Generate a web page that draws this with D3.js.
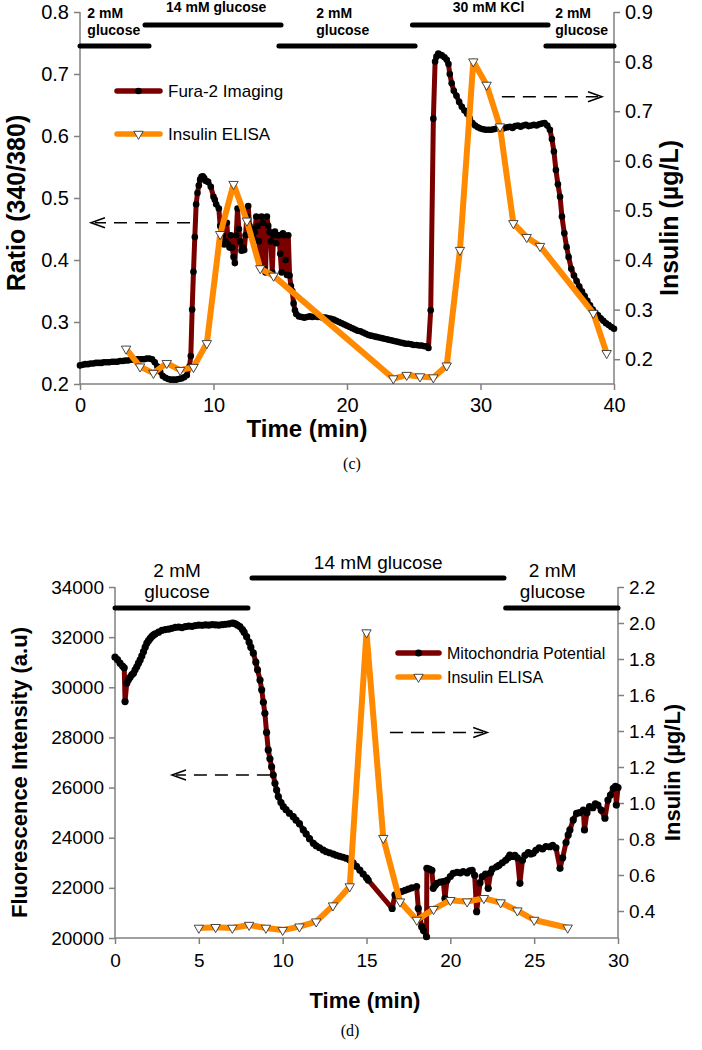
<!DOCTYPE html>
<html><head><meta charset="utf-8">
<script src="https://cdn.jsdelivr.net/npm/d3@7"></script>
<style>body{margin:0;background:#fff}svg{display:block}</style>
</head><body><svg id="c" width="702" height="1050"></svg>
<script>
// ---------- Panel (c) data ----------
const furaTimeRatio = [
[0.0,0.230],[0.2,0.231],[0.4,0.232],[0.6,0.232],[0.8,0.233],[1.0,0.233],[1.2,0.234],[1.4,0.234],[1.6,0.234],[1.8,0.235],
[2.0,0.235],[2.2,0.235],[2.4,0.236],[2.6,0.236],[2.8,0.236],[3.0,0.237],[3.2,0.237],[3.4,0.238],[3.6,0.238],[3.8,0.239],
[4.0,0.239],[4.2,0.240],[4.4,0.240],[4.6,0.240],[4.8,0.240],[5.0,0.241],[5.2,0.241],[5.4,0.240],[5.6,0.235],[5.8,0.228],
[6.0,0.220],[6.2,0.213],[6.4,0.210],[6.6,0.208],[6.8,0.207],[7.0,0.207],[7.2,0.207],[7.4,0.208],[7.6,0.209],[7.8,0.211],
[8.0,0.214],[8.2,0.228],[8.3,0.245],[8.4,0.320],[8.5,0.381],[8.6,0.437],[8.7,0.490],[8.8,0.508],[8.9,0.520],[9.0,0.530],
[9.1,0.534],[9.2,0.535],[9.3,0.532],[9.4,0.528],[9.5,0.527],[9.6,0.526],[9.8,0.518],[10.0,0.502],[10.1,0.497],[10.2,0.490],
[10.4,0.483],[10.5,0.455],[10.6,0.430],[10.7,0.440],[10.8,0.425],[10.9,0.430],[11.0,0.460],[11.1,0.425],[11.2,0.420],[11.3,0.440],
[11.4,0.420],[11.5,0.405],[11.6,0.395],[11.7,0.440],[11.8,0.483],[11.9,0.450],[12.0,0.430],[12.1,0.415],[12.2,0.420],[12.3,0.416],
[12.4,0.440],[12.5,0.470],[12.6,0.487],[12.7,0.455],[12.8,0.440],[12.9,0.450],[13.0,0.435],[13.1,0.445],[13.2,0.470],[13.3,0.455],
[13.4,0.430],[13.5,0.390],[13.6,0.470],[13.7,0.460],[13.8,0.385],[13.9,0.380],[14.0,0.470],[14.1,0.455],[14.2,0.445],[14.3,0.430],
[14.4,0.380],[14.5,0.440],[14.6,0.446],[14.7,0.427],[14.8,0.440],[14.9,0.440],[15.0,0.410],[15.1,0.380],[15.2,0.443],[15.3,0.440],
[15.4,0.400],[15.5,0.376],[15.6,0.440],[15.7,0.375],[15.8,0.358],[15.9,0.350],[16.0,0.330],[16.1,0.319],[16.2,0.313],[16.4,0.309],
[16.6,0.308],[16.8,0.307],[17.0,0.308],[17.2,0.309],[17.4,0.308],[17.6,0.309],[17.8,0.308],[18.0,0.308],[18.2,0.307],[18.4,0.307],
[18.6,0.306],[18.8,0.305],[19.0,0.304],[19.2,0.302],[19.4,0.300],[19.6,0.298],[19.8,0.296],[20.0,0.294],[20.2,0.292],[20.4,0.290],
[20.6,0.288],[20.8,0.286],[21.0,0.285],[21.2,0.283],[21.4,0.281],[21.6,0.279],[21.8,0.278],[22.0,0.277],[22.2,0.276],[22.4,0.275],
[22.6,0.274],[22.8,0.273],[23.0,0.272],[23.2,0.271],[23.4,0.270],[23.6,0.269],[23.8,0.268],[24.0,0.267],[24.2,0.266],[24.4,0.265],
[24.6,0.265],[24.8,0.264],[25.0,0.263],[25.2,0.263],[25.4,0.262],[25.6,0.262],[25.8,0.261],[26.0,0.261],[26.1,0.258],[26.27,0.319],
[26.47,0.628],[26.6,0.720],[26.7,0.728],[26.84,0.733],[27.0,0.731],[27.1,0.730],[27.3,0.727],[27.47,0.723],[27.6,0.716],[27.7,0.700],
[27.84,0.685],[28.0,0.673],[28.2,0.665],[28.4,0.655],[28.6,0.647],[28.8,0.641],[29.0,0.636],[29.2,0.628],[29.4,0.621],[29.6,0.617],
[29.8,0.614],[30.0,0.612],[30.2,0.611],[30.4,0.610],[30.6,0.610],[30.8,0.610],[31.0,0.611],[31.2,0.612],[31.4,0.612],[31.6,0.611],
[31.8,0.613],[32.0,0.614],[32.2,0.615],[32.4,0.613],[32.6,0.616],[32.8,0.617],[33.0,0.615],[33.2,0.617],[33.4,0.618],[33.6,0.616],
[33.8,0.617],[34.0,0.618],[34.2,0.617],[34.4,0.619],[34.6,0.620],[34.8,0.621],[35.0,0.617],[35.2,0.610],[35.35,0.595],[35.5,0.575],
[35.65,0.545],[35.8,0.522],[35.96,0.502],[36.1,0.470],[36.28,0.443],[36.45,0.421],[36.6,0.405],[36.8,0.386],[37.0,0.375],[37.2,0.366],
[37.4,0.357],[37.6,0.349],[37.8,0.342],[38.0,0.334],[38.2,0.327],[38.4,0.320],[38.6,0.315],[38.8,0.311],[39.0,0.306],[39.2,0.302],
[39.4,0.298],[39.6,0.295],[39.8,0.292],[40.0,0.289]
];
const insulinC = [
[3.45,0.221],[4.5,0.185],[5.5,0.172],[6.5,0.192],[7.5,0.178],[8.5,0.184],[9.5,0.232],[10.5,0.452],[11.5,0.553],[12.5,0.479],
[13.5,0.383],[14.5,0.368],[23.47,0.161],[24.47,0.168],[25.47,0.165],[26.47,0.163],[27.47,0.187],[28.46,0.420],[29.46,0.800],
[30.46,0.753],[31.46,0.669],[32.46,0.474],[33.46,0.446],[34.46,0.428],[38.45,0.293],[39.45,0.212]
];
const ticksCx = [0,10,20,30,40];
const ticksCLeft = [0.2,0.3,0.4,0.5,0.6,0.7,0.8];
const ticksCRight = [0.2,0.3,0.4,0.5,0.6,0.7,0.8,0.9];
const condC = [
 {from:0, to:5.17, level:0, lines:["2 mM","glucose"], at:0.55, anchor:"start"},
 {from:4.87, to:15.06, level:1, lines:["14 mM glucose"], at:10.2, anchor:"middle"},
 {from:14.9, to:25.1, level:0, lines:["2 mM","glucose"], at:17.7, anchor:"start"},
 {from:24.9, to:35.06, level:1, lines:["30 mM KCl"], at:30.6, anchor:"middle"},
 {from:34.9, to:40, level:0, lines:["2 mM","glucose"], at:35.6, anchor:"start"}
];

// ---------- Panel (d) data ----------
const mitoTimeFluor = [
[0.0,31200],[0.15,31100],[0.3,30960],[0.45,30850],[0.55,30780],[0.6,29430],[0.7,30160],[0.8,30300],[0.9,30400],[1.0,30500],
[1.1,30560],[1.2,30700],[1.3,30820],[1.4,30960],[1.5,31090],[1.6,31250],[1.7,31420],[1.8,31600],[1.9,31760],[2.0,31860],
[2.1,31950],[2.2,32030],[2.3,32090],[2.4,32130],[2.6,32200],[2.8,32270],[3.0,32300],[3.2,32320],[3.4,32350],[3.6,32390],
[3.8,32400],[4.0,32380],[4.2,32420],[4.4,32440],[4.6,32430],[4.8,32460],[5.0,32480],[5.2,32470],[5.4,32490],[5.6,32480],
[5.8,32500],[6.0,32490],[6.2,32480],[6.4,32500],[6.6,32510],[6.8,32530],[7.0,32560],[7.1,32550],[7.2,32520],[7.3,32480],
[7.45,32420],[7.6,32300],[7.7,32200],[7.85,32020],[8.0,31800],[8.1,31600],[8.25,31360],[8.4,31000],[8.5,30700],[8.65,30290],
[8.75,29900],[8.85,29400],[8.94,28960],[9.04,28200],[9.14,27500],[9.24,27150],[9.34,26830],[9.44,26500],[9.54,26170],[9.64,25900],
[9.74,25640],[9.9,25400],[10.04,25240],[10.2,25120],[10.4,24980],[10.63,24840],[10.8,24700],[11.0,24560],[11.23,24310],[11.4,24150],
[11.6,23960],[11.83,23780],[12.0,23680],[12.2,23600],[12.42,23510],[12.6,23440],[12.8,23400],[13.02,23350],[13.2,23300],[13.4,23260],
[13.6,23220],[13.8,23180],[14.0,23110],[14.2,23000],[14.4,22860],[14.6,22710],[14.8,22550],[15.0,22400],[15.1,22310],[16.53,21180],
[16.7,21720],[16.9,21800],[17.1,21850],[17.3,21900],[17.5,21950],[17.7,22000],[17.99,22050],[18.09,21180],[18.2,20800],[18.29,20450],
[18.4,20300],[18.58,20050],[18.6,22780],[18.75,22750],[18.9,22700],[18.98,21980],[19.1,22100],[19.2,22180],[19.4,22230],[19.58,22250],
[19.68,21580],[19.8,22300],[20.0,22450],[20.17,22580],[20.4,22620],[20.6,22600],[20.77,22650],[21.0,22600],[21.15,22680],[21.3,22700],
[21.45,22500],[21.57,21050],[21.77,22200],[21.9,22450],[22.1,22550],[22.26,21980],[22.4,22600],[22.5,22750],[22.76,22840],[22.9,22900],
[23.1,23000],[23.3,23100],[23.45,23200],[23.55,23310],[23.7,23250],[23.85,23300],[24.0,23200],[24.15,22180],[24.3,23100],[24.45,23300],
[24.65,23410],[24.8,23350],[24.94,23380],[25.1,23500],[25.3,23600],[25.5,23550],[25.7,23650],[25.94,23640],[26.1,23700],[26.3,23600],
[26.54,22780],[26.7,23200],[26.9,23810],[27.03,24110],[27.13,24310],[27.33,24710],[27.53,24970],[27.7,25000],[27.93,25100],[28.0,24310],
[28.15,25000],[28.3,25240],[28.5,25200],[28.65,25350],[28.8,25300],[29.0,25100],[29.22,24780],[29.4,25500],[29.55,25700],[29.72,25970],
[29.85,26050],[29.9,25300],[30.0,26000]
];
const insulinD = [
[5,0.306],[6,0.310],[7,0.306],[8,0.322],[9,0.306],[10,0.294],[11,0.313],[12,0.341],[13,0.430],[14,0.536],[15,1.947],
[16,0.805],[17,0.452],[18,0.350],[19,0.410],[20,0.460],[21,0.452],[22,0.471],[23,0.447],[24,0.402],[25,0.350],[27,0.307]
];
const ticksDx = [0,5,10,15,20,25,30];
const ticksDLeft = [20000,22000,24000,26000,28000,30000,32000,34000];
const ticksDRight = [0.4,0.6,0.8,1.0,1.2,1.4,1.6,1.8,2.0,2.2];
const condD = [
 {from:0, to:7.93, level:0, lines:["2 mM","glucose"], at:3.7, anchor:"middle"},
 {from:8.17, to:23.2, level:1, lines:["14 mM glucose"], at:15.7, anchor:"middle"},
 {from:23.3, to:30, level:0, lines:["2 mM","glucose"], at:26.1, anchor:"middle"}
];

const DARKRED = "#7a0000", ORANGE = "#ff8a00", AXIS = "#808080";
const svg = d3.select("#c");
const SANS = "Liberation Sans, Arial, sans-serif";

function panel(o){
  const g = svg.append("g");
  const x = d3.scaleLinear().domain(o.xDomain).range([o.left, o.right]);
  const yL = d3.scaleLinear().domain(o.yLDomain).range([o.bottom, o.top]);
  const yR = d3.scaleLinear().domain(o.yRDomain).range([o.bottom, o.top]);

  const ax = g.append("g").attr("transform",`translate(0,${o.bottom})`)
    .call(d3.axisBottom(x).tickValues(o.xTicks).tickSize(6).tickPadding(o.xPad).tickSizeOuter(0));
  const al = g.append("g").attr("transform",`translate(${o.left},0)`)
    .call(d3.axisLeft(yL).tickValues(o.yLTicks).tickSize(6).tickPadding(5).tickSizeOuter(0).tickFormat(o.yLFmt));
  const ar = g.append("g").attr("transform",`translate(${o.right},0)`)
    .call(d3.axisRight(yR).tickValues(o.yRTicks).tickSize(6).tickPadding(5).tickSizeOuter(0).tickFormat(o.yRFmt));
  [ax,al,ar].forEach(a=>{
    a.selectAll("path").attr("stroke",AXIS).attr("stroke-width",1.5);
    a.selectAll("line").attr("stroke",AXIS).attr("stroke-width",1.5);
    a.selectAll("text").attr("fill","#000").style("font-family",SANS).style("font-size",o.tickFont+"px");
  });
  ax.select("path").attr("d",`M${o.left},0H${o.right}`);
  al.select("path").attr("d",`M0,${o.bottom}V${o.top}`);
  ar.select("path").attr("d",`M0,${o.bottom}V${o.top}`);

  o.cond.forEach(c=>{
    const yb = c.level===0 ? o.barY0 : o.barY1;
    g.append("line").attr("x1",x(c.from)).attr("x2",x(c.to)).attr("y1",yb).attr("y2",yb)
      .attr("stroke","#000").attr("stroke-width",5).attr("stroke-linecap","round");
    c.lines.forEach((t,i)=>{
      const base = c.lines.length===2 ? o.condTwo[i] : o.condOne;
      g.append("text").attr("x",x(c.at)).attr("y",base)
        .attr("text-anchor",c.anchor).style("font-family",SANS).style("font-size",o.condFont+"px")
        .style("font-weight",o.condWeight).text(t);
    });
  });

  o.arrows.forEach(a=>{
    const sc = a.axis==="L"? yL : yR;
    const x1 = x(a.from), x2 = x(a.to), yy = sc(a.y);
    g.append("line").attr("x1",x1).attr("x2",x2+(x2<x1?4:-4)).attr("y1",yy).attr("y2",yy)
      .attr("stroke","#000").attr("stroke-width",1.5).attr("stroke-dasharray","13,8");
    const d = x2<x1 ? 1 : -1;
    g.append("path").attr("d",`M${x2+d*14},${yy-5}L${x2},${yy}L${x2+d*14},${yy+5}`)
      .attr("fill","none").attr("stroke","#000").attr("stroke-width",1.5);
  });

  const line1 = d3.line().x(d=>x(d[0])).y(d=>yL(d[1]));
  g.append("path").datum(o.s1).attr("d",line1).attr("fill","none").attr("stroke",DARKRED)
    .attr("stroke-width",5).attr("stroke-linejoin","round");
  g.selectAll(null).data(o.s1).enter().append("circle").attr("cx",d=>x(d[0])).attr("cy",d=>yL(d[1]))
    .attr("r",o.dotR).attr("fill","#000");

  const line2 = d3.line().x(d=>x(d[0])).y(d=>yR(d[1]));
  g.append("path").datum(o.s2).attr("d",line2).attr("fill","none").attr("stroke",ORANGE)
    .attr("stroke-width",6).attr("stroke-linejoin","round");
  const tri = d3.symbol().type(d3.symbolTriangle).size(o.triSize);
  g.selectAll(null).data(o.s2).enter().append("path").attr("d",tri)
    .attr("transform",d=>`translate(${x(d[0])},${yR(d[1])}) rotate(180)`)
    .attr("fill","#fff").attr("stroke","#333").attr("stroke-width",0.9);

  o.legend.forEach((l,i)=>{
    const yy = o.legY[i];
    g.append("line").attr("x1",o.legX[0]).attr("x2",o.legX[1]).attr("y1",yy).attr("y2",yy)
      .attr("stroke",i===0?DARKRED:ORANGE).attr("stroke-width",5.5).attr("stroke-linecap","round");
    const cx = (o.legX[0]+o.legX[1])/2;
    if(i===0) g.append("circle").attr("cx",cx).attr("cy",yy).attr("r",o.dotR).attr("fill","#000");
    else g.append("path").attr("d",tri).attr("transform",`translate(${cx},${yy}) rotate(180)`)
      .attr("fill","#fff").attr("stroke","#333").attr("stroke-width",0.9);
    g.append("text").attr("x",o.legX[1]+8).attr("y",yy).attr("dy","0.35em")
      .style("font-family",SANS).style("font-size",o.legFont+"px").text(l);
  });

  g.append("text").attr("transform",`translate(${o.yLTitleX},${(o.top+o.bottom)/2+o.yLTitleDy}) rotate(-90)`)
    .attr("text-anchor","middle").style("font-family",SANS).style("font-weight","bold")
    .style("font-size",o.titleFont+"px").text(o.yLTitle);
  g.append("text").attr("transform",`translate(${o.yRTitleX},${(o.top+o.bottom)/2+o.yRTitleDy}) rotate(-90)`)
    .attr("text-anchor","middle").style("font-family",SANS).style("font-weight","bold")
    .style("font-size",o.titleFont+"px").text(o.yRTitle);
  g.append("text").attr("x",o.xTitleX).attr("y",o.xTitleY).attr("text-anchor","middle")
    .style("font-family",SANS).style("font-weight","bold").style("font-size",o.xTitleFont+"px").text("Time (min)");
  g.append("text").attr("x",o.capX).attr("y",o.capY).attr("text-anchor","middle")
    .style("font-family","Liberation Serif, Times New Roman, serif").style("font-size","16px").text(o.caption);
}

panel({
  left:80, right:614, top:12, bottom:384,
  xDomain:[0,40], yLDomain:[0.2,0.8], yRDomain:[0.15,0.9],
  xTicks:ticksCx, yLTicks:ticksCLeft, yRTicks:ticksCRight,
  yLFmt:d3.format(".1f"), yRFmt:d3.format(".1f"), xPad:8, tickFont:20,
  cond:condC, barY0:46, barY1:25, condTwo:[18,35], condOne:12, condFont:14, condWeight:"bold",
  arrows:[{from:8.24,to:0.82,y:0.46,axis:"L"},{from:31.6,to:39.1,y:0.729,axis:"R"}],
  s1:furaTimeRatio, s2:insulinC, dotR:3.3, triSize:38,
  legend:["Fura-2 Imaging","Insulin ELISA"], legY:[91,134], legX:[117,160], legFont:17,
  yLTitle:"Ratio (340/380)", yLTitleX:25, yLTitleDy:5, yRTitle:"Insulin (µg/L)", yRTitleX:678, yRTitleDy:20,
  titleFont:25, xTitleFont:24, xTitleX:307, xTitleY:437, capX:352, capY:469, caption:"(c)"
});

panel({
  left:115, right:618, top:587, bottom:938,
  xDomain:[0,30], yLDomain:[20000,34000], yRDomain:[0.25,2.2],
  xTicks:ticksDx, yLTicks:ticksDLeft, yRTicks:ticksDRight,
  yLFmt:d3.format("d"), yRFmt:d3.format(".1f"), xPad:10, tickFont:19,
  cond:condD, barY0:608, barY1:578, condTwo:[577,598], condOne:569, condFont:19, condWeight:"normal",
  arrows:[{from:9.24,to:3.4,y:26500,axis:"L"},{from:16.4,to:22.2,y:1.392,axis:"R"}],
  s1:mitoTimeFluor, s2:insulinD, dotR:3.6, triSize:38,
  legend:["Mitochondria Potential","Insulin ELISA"], legY:[653,677], legX:[398,439], legFont:16,
  yLTitle:"Fluorescence Intensity (a.u)", yLTitleX:27, yLTitleDy:10, yRTitle:"Insulin (µg/L)", yRTitleX:680, yRTitleDy:10,
  titleFont:22, xTitleFont:22, xTitleX:365, xTitleY:1008, capX:350, capY:1036, caption:"(d)"
});
</script>
</body></html>
